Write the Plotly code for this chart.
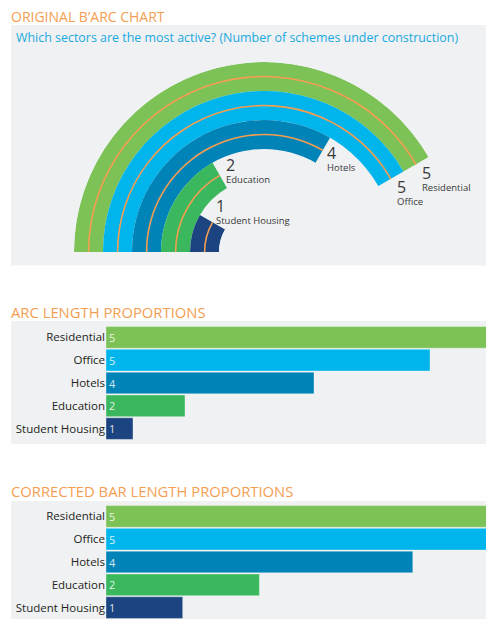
import plotly.graph_objects as go

# ---------------- data ----------------
categories = ["Residential", "Office", "Hotels", "Education", "Student Housing"]
values = [5, 5, 4, 2, 1]
colors = ["#7dc257", "#00b4ec", "#0083b7", "#3bb75e", "#1b4480"]
arc_lengths = [388, 324, 208, 79, 27]
ring_index = [4, 3, 2, 1, 0]  # 0 = innermost ring

DEG_PER_SCHEME = 30
W, H = 486, 619
ORANGE = "#f59e52"
PANEL = "#eff1f3"
FONT = "Open Sans"


def px(x):
    return x / W


def py(y):
    return 1 - y / H


fig = go.Figure()

# ---------------- B'arc chart (polar) ----------------
for cat, v, c, i in zip(categories, values, colors, ring_index):
    span = v * DEG_PER_SCHEME
    fig.add_trace(go.Barpolar(
        r=[1], base=[i], theta=[span / 2], width=[span],
        marker=dict(color=c, line=dict(width=0)),
        name=cat, showlegend=False, hoverinfo="skip", subplot="polar"))
    fig.add_trace(go.Barpolar(
        r=[0.055], base=[i + 0.47], theta=[span / 2], width=[span],
        marker=dict(color=ORANGE, line=dict(width=0)),
        showlegend=False, hoverinfo="skip", subplot="polar"))

# ---------------- arc-length bars ----------------
fig.add_trace(go.Bar(
    y=categories, x=arc_lengths, orientation="h",
    marker=dict(color=colors, line=dict(color="rgba(255,255,255,0.35)", width=1)),
    text=[str(v) for v in values], textposition="inside", insidetextanchor="start",
    textfont=dict(color="rgba(255,255,255,0.85)", size=11, family=FONT),
    showlegend=False, hoverinfo="skip", xaxis="x", yaxis="y"))

# ---------------- corrected bars ----------------
fig.add_trace(go.Bar(
    y=categories, x=values, orientation="h",
    marker=dict(color=colors, line=dict(color="rgba(255,255,255,0.35)", width=1)),
    text=[str(v) for v in values], textposition="inside", insidetextanchor="start",
    textfont=dict(color="rgba(255,255,255,0.85)", size=11, family=FONT),
    showlegend=False, hoverinfo="skip", xaxis="x2", yaxis="y2"))

# ---------------- panels ----------------
shapes = []
for (y0, y1) in [(25, 265.5), (321, 444), (501, 619)]:
    shapes.append(dict(type="rect", xref="paper", yref="paper", layer="below",
                       x0=px(11), x1=1, y0=py(y1), y1=py(y0),
                       fillcolor=PANEL, line=dict(width=0)))

annotations = []


def title(text, x, y, size=14.5, color=ORANGE):
    annotations.append(dict(text=text, xref="paper", yref="paper", x=px(x), y=py(y),
                            xanchor="left", yanchor="middle", showarrow=False,
                            font=dict(family=FONT, size=size, color=color)))


title("ORIGINAL B\u2019ARC CHART", 9, 16.5, size=14)
title("Which sectors are the most active? (Number of schemes under construction)",
      14, 38, size=12.45, color="#1aa9e0")
title("ARC LENGTH PROPORTIONS", 9, 312, size=14.8)
title("CORRECTED BAR LENGTH PROPORTIONS", 9, 491, size=14.8)

# arc labels (number over name), top-left anchor positions in pixels
label_pos = {
    "Residential": (420, 160),
    "Office": (395, 174),
    "Hotels": (325, 140),
    "Education": (224, 151.5),
    "Student Housing": (214, 193),
}
for cat, v in zip(categories, values):
    lx, ly = label_pos[cat]
    annotations.append(dict(
        text="<span style='font-size:16px'>%d</span><br>%s" % (v, cat),
        xref="paper", yref="paper", x=px(lx), y=py(ly), align="left",
        xanchor="left", yanchor="top", showarrow=False,
        font=dict(family=FONT, size=9.5, color="#3a3a3a")))

hidden_axis = dict(showgrid=False, zeroline=False, showline=False, showticklabels=False, ticks="")
cat_axis = dict(categoryorder="array", categoryarray=categories, autorange="reversed",
                showgrid=False, zeroline=False, showline=False, ticks="",
                tickfont=dict(family=FONT, size=11.5, color="#231f20"), fixedrange=True)

fig.update_layout(
    width=W, height=H, margin=dict(l=0, r=0, t=0, b=0),
    paper_bgcolor="white", plot_bgcolor="rgba(0,0,0,0)",
    font=dict(family=FONT),
    shapes=shapes, annotations=annotations,
    bargap=0.05,
    polar=dict(
        domain=dict(x=[px(74), px(454)], y=[py(252), py(62)]),
        sector=[0, 180], hole=45 / 190, bgcolor="rgba(0,0,0,0)",
        angularaxis=dict(rotation=180, direction="clockwise", showgrid=False,
                         showline=False, showticklabels=False, ticks=""),
        radialaxis=dict(range=[0, 5], showgrid=False, showline=False,
                        showticklabels=False, ticks=""),
    ),
    xaxis=dict(domain=[px(106), 1], range=[0, 380], **hidden_axis, fixedrange=True),
    yaxis=dict(domain=[py(440), py(326)], anchor="x", **cat_axis),
    xaxis2=dict(domain=[px(106), 1], range=[0, 380 / 76.7], anchor="y2", **hidden_axis, fixedrange=True),
    yaxis2=dict(domain=[py(619), py(505)], anchor="x2", **cat_axis),
)

fig.write_html("out.html", config={"displayModeBar": False},
               post_script="document.body.style.margin='0px';document.body.style.overflow='hidden';")
